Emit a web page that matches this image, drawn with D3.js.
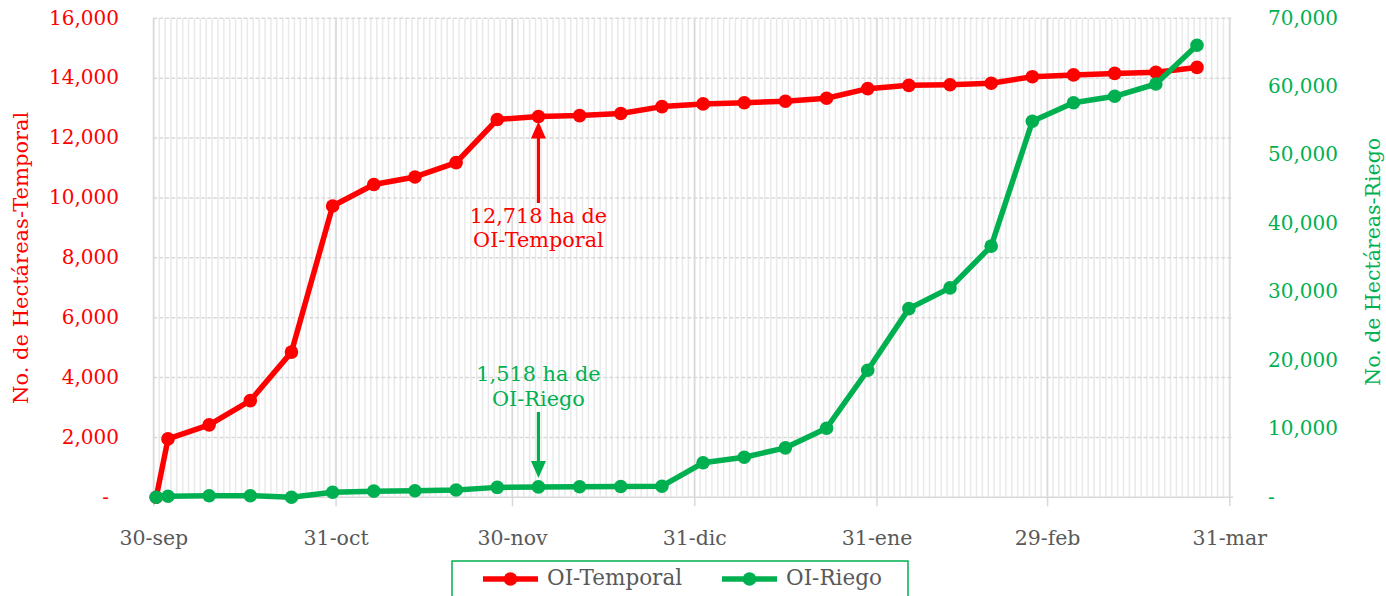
<!DOCTYPE html>
<html>
<head>
<meta charset="utf-8">
<script src="https://cdn.jsdelivr.net/npm/d3@7"></script>
<style>
  html, body { margin: 0; padding: 0; background: #fff; }
  text { font-family: "DejaVu Serif", serif; }
</style>
</head>
<body>
<div id="container"></div>
<script>
// fechas de corte (semanales) y hectareas acumuladas
const fechas = ["2019-09-30","2019-10-02","2019-10-09","2019-10-16","2019-10-23","2019-10-30",
  "2019-11-06","2019-11-13","2019-11-20","2019-11-27","2019-12-04","2019-12-11","2019-12-18",
  "2019-12-25","2020-01-01","2020-01-08","2020-01-15","2020-01-22","2020-01-29","2020-02-05",
  "2020-02-12","2020-02-19","2020-02-26","2020-03-04","2020-03-11","2020-03-18","2020-03-25"];
const temporal = [0,1950,2420,3230,4850,9730,10450,10700,11180,12620,12718,12750,12820,
  13050,13140,13180,13230,13330,13650,13760,13780,13830,14050,14110,14160,14200,14360];
const riego = [0,150,230,230,0,730,900,960,1070,1450,1518,1540,1570,
  1620,5040,5860,7230,10100,18570,27570,30600,36700,54950,57650,58600,60400,66070];

const ticksTemporal = [0,2000,4000,6000,8000,10000,12000,14000,16000];
const ticksRiego = [0,10000,20000,30000,40000,50000,60000,70000];
const fechasEje = ["2019-09-30","2019-10-31","2019-11-30","2019-12-31","2020-01-31","2020-02-29","2020-03-31"];
const etiquetasEje = ["30-sep","31-oct","30-nov","31-dic","31-ene","29-feb","31-mar"];

const width = 1386, height = 596;
const rojo = "#ff0000", verde = "#00b050", gris = "#595959";
const yTop = 18.3, yBot = 497.3, xIzq = 153.3;
const parse = d3.utcParse("%Y-%m-%d");
const dias = fechas.map(parse);

const x = d3.scaleUtc()
  .domain([parse("2019-09-30"), parse("2020-04-01")])
  .range([xIzq, xIzq + 184 * 5.88]);
const xDer = x.range()[1] - 2;
const yL = d3.scaleLinear().domain([0,16000]).range([yBot, yTop]);
const yR = d3.scaleLinear().domain([0,70000]).range([yBot, yTop]);
// excel centra cada punto entre marcas diarias
const xp = d => x(d3.utcHour.offset(d, 12));
const fmt = v => v === 0 ? "-" : d3.format(",")(v);

const svg = d3.select("#container")
  .append("svg")
    .attr("width", width)
    .attr("height", height);

// rejilla diaria
svg.append("g")
    .attr("stroke", "#e9e9e9")
    .attr("stroke-width", 1.5)
  .selectAll("line")
  .data(d3.utcDay.range(x.domain()[0], x.domain()[1]))
  .join("line")
    .attr("x1", d => x(d)).attr("x2", d => x(d))
    .attr("y1", yTop).attr("y2", yBot);

// rejilla horizontal
svg.append("g")
    .attr("stroke", "#d9d9d9")
    .attr("stroke-width", 1.5)
    .attr("stroke-dasharray", "4,2")
  .selectAll("line")
  .data(ticksTemporal.slice(1))
  .join("line")
    .attr("x1", xIzq).attr("x2", xDer)
    .attr("y1", d => yL(d)).attr("y2", d => yL(d));

// eje x
const xAxis = svg.append("g")
    .attr("transform", `translate(0,${yBot})`)
    .call(d3.axisBottom(x)
      .tickValues(fechasEje.map(parse))
      .tickFormat((d, i) => etiquetasEje[i])
      .tickSizeInner(9).tickSizeOuter(0).tickPadding(24));
xAxis.select(".domain").remove();
xAxis.append("line")
    .attr("x1", xIzq).attr("x2", xDer)
    .attr("stroke", "#d9d9d9").attr("stroke-width", 1.5);
xAxis.selectAll(".tick line")
    .attr("y1", yTop - yBot)
    .attr("stroke", "#d9d9d9").attr("stroke-width", 1.5);
xAxis.selectAll(".tick text")
    .attr("fill", gris).attr("font-size", 20.5)
    .attr("font-family", "DejaVu Serif");

// eje izquierdo
const yAxisL = svg.append("g")
    .attr("transform", "translate(119,0)")
    .call(d3.axisLeft(yL).tickValues(ticksTemporal).tickFormat(fmt).tickSize(0).tickPadding(0));
yAxisL.select(".domain").remove();
yAxisL.selectAll(".tick text")
    .attr("fill", rojo).attr("font-size", 20).attr("font-family", "DejaVu Serif")
    .attr("dy", 5.7)
    .attr("dx", d => d === 0 ? -10 : 0);

// eje derecho
const yAxisR = svg.append("g")
    .attr("transform", "translate(1268,0)")
    .call(d3.axisRight(yR).tickValues(ticksRiego).tickFormat(fmt).tickSize(0).tickPadding(0));
yAxisR.select(".domain").remove();
yAxisR.selectAll(".tick text")
    .attr("fill", verde).attr("font-size", 20).attr("font-family", "DejaVu Serif")
    .attr("dy", 5.7);

// titulos de ejes
svg.append("text")
    .attr("transform", `translate(28,${(yTop + yBot) / 2}) rotate(-90)`)
    .attr("text-anchor", "middle")
    .attr("fill", rojo).attr("font-size", 21)
    .text("No. de Hectáreas-Temporal");
svg.append("text")
    .attr("transform", `translate(1380,${(yTop + yBot) / 2 + 4}) rotate(-90)`)
    .attr("text-anchor", "middle")
    .attr("fill", verde).attr("font-size", 20.5)
    .text("No. de Hectáreas-Riego");

// series
const series = [
  { valores: temporal, y: yL, color: rojo },
  { valores: riego, y: yR, color: verde }
];
series.forEach(s => {
  const pts = dias.map((d, i) => [xp(d), s.y(s.valores[i])]);
  svg.append("path")
      .attr("d", d3.line()(pts))
      .attr("fill", "none")
      .attr("stroke", s.color)
      .attr("stroke-width", 5.5)
      .attr("stroke-linejoin", "round");
  svg.append("g")
      .attr("fill", s.color)
    .selectAll("circle")
    .data(pts)
    .join("circle")
      .attr("cx", d => d[0]).attr("cy", d => d[1]).attr("r", 6.8);
});

// anotaciones
function flecha(x0, yFrom, yTip, color) {
  const dir = yTip < yFrom ? 1 : -1;
  svg.append("line")
      .attr("x1", x0).attr("x2", x0)
      .attr("y1", yFrom).attr("y2", yTip + dir * 12)
      .attr("stroke", color).attr("stroke-width", 3.2);
  svg.append("path")
      .attr("d", `M${x0},${yTip}L${x0 - 7.5},${yTip + dir * 17}L${x0 + 7.5},${yTip + dir * 17}Z`)
      .attr("fill", color);
}
const iDic4 = fechas.indexOf("2019-12-04");
const xa = xp(dias[iDic4]);
flecha(xa, 203, yL(temporal[iDic4]) + 5, rojo);
flecha(xa, 412, 478, verde);

const nota = [
  { lineas: [d3.format(",")(temporal[iDic4]) + " ha de", "OI-Temporal"], y: 222.5, color: rojo },
  { lineas: [d3.format(",")(riego[iDic4]) + " ha de", "OI-Riego"], y: 381, color: verde }
];
nota.forEach(n => {
  svg.append("g")
    .selectAll("text")
    .data(n.lineas)
    .join("text")
      .attr("x", xa)
      .attr("y", (d, i) => n.y + i * 24.5)
      .attr("text-anchor", "middle")
      .attr("fill", n.color).attr("font-size", 20.8)
      .text(d => d);
});

// leyenda
const leyenda = svg.append("g");
leyenda.append("rect")
    .attr("x", 452).attr("y", 561).attr("width", 456).attr("height", 50)
    .attr("fill", "#fff").attr("stroke", verde).attr("stroke-width", 1.5);
const items = [
  { nombre: "OI-Temporal", color: rojo, x: 483 },
  { nombre: "OI-Riego", color: verde, x: 722 }
];
items.forEach(it => {
  leyenda.append("line")
      .attr("x1", it.x).attr("x2", it.x + 55)
      .attr("y1", 579).attr("y2", 579)
      .attr("stroke", it.color).attr("stroke-width", 5.5);
  leyenda.append("circle")
      .attr("cx", it.x + 27.5).attr("cy", 579).attr("r", 6.8)
      .attr("fill", it.color);
  leyenda.append("text")
      .attr("x", it.x + 64).attr("y", 585)
      .attr("fill", gris).attr("font-size", 21.5)
      .text(it.nombre);
});
</script>
</body>
</html>
